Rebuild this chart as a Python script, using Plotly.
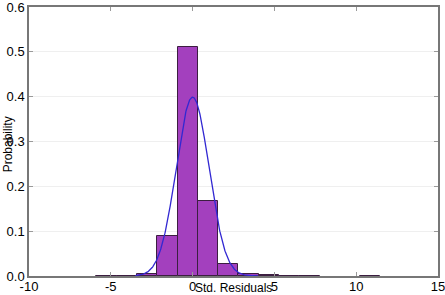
import numpy as np
import plotly.graph_objects as go

# Histogram of standardized residuals (density)
bin_edges = [-7.12, -5.88, -4.64, -3.40, -2.16, -0.92, 0.32, 1.56, 2.80, 4.04,
             5.28, 6.52, 7.76, 9.00, 10.24, 11.48]
densities = [0.0, 0.0005, 0.0005, 0.004, 0.090, 0.510, 0.168, 0.026, 0.0045,
             0.0015, 0.0005, 0.0005, 0.0, 0.0, 0.0005]

# Fitted normal curve parameters
norm_mu = 0.0
norm_sigma = 1.0
curve_range = [-3.5, 4.0]

x_ticks = [-10, -5, 0, 5, 10, 15]
y_ticks = [0.0, 0.1, 0.2, 0.3, 0.4, 0.5, 0.6]

edges = np.array(bin_edges)
dens = np.array(densities)
centers = (edges[:-1] + edges[1:]) / 2
widths = edges[1:] - edges[:-1]
keep = dens > 0  # empty bins draw nothing

xc = np.linspace(curve_range[0], curve_range[1], 300)
yc = np.exp(-0.5 * ((xc - norm_mu) / norm_sigma) ** 2) / (norm_sigma * np.sqrt(2 * np.pi))

FONT = "Liberation Sans, Arial, sans-serif"

fig = go.Figure()
fig.add_trace(go.Bar(
    x=centers[keep], y=dens[keep], width=widths[keep],
    marker=dict(color="rgb(163,64,190)", line=dict(color="rgb(60,30,65)", width=1)),
    showlegend=False,
))
fig.add_trace(go.Scatter(
    x=xc, y=yc, mode="lines",
    line=dict(color="rgb(50,40,210)", width=1.3),
    showlegend=False,
))

axis_common = dict(
    showline=True, linecolor="#777777", linewidth=1.5, mirror="allticks",
    ticks="inside", ticklen=4, tickcolor="#9a9a9a", tickwidth=1,
    zeroline=False, automargin=False, ticklabeloverflow="allow",
    tickfont=dict(family=FONT, size=13, color="black"),
)

fig.update_layout(
    width=445, height=295,
    margin=dict(l=29, r=7, t=7, b=19),
    plot_bgcolor="white", paper_bgcolor="white",
    bargap=0,
    xaxis=dict(
        range=[-10, 15], tickvals=x_ticks, ticktext=[str(v) for v in x_ticks],
        showgrid=False, ticklabelstandoff=-2,
        **axis_common,
    ),
    yaxis=dict(
        range=[0, 0.6], tickvals=y_ticks, ticktext=[f"{v:.1f}" for v in y_ticks],
        showgrid=True, gridcolor="#efefef", gridwidth=1,
        **axis_common,
    ),
    annotations=[
        dict(text="Std. Residuals", xref="paper", yref="paper", x=0.5, y=-0.044,
             xanchor="center", yanchor="middle", showarrow=False,
             font=dict(family=FONT, size=12, color="black")),
        dict(text="Probability", xref="paper", yref="paper", x=-0.051, y=0.49,
             xanchor="center", yanchor="middle", textangle=-90, showarrow=False,
             font=dict(family=FONT, size=12, color="black")),
    ],
)

fig.write_html("out.html", config={"displayModeBar": False},
               post_script="document.body.style.margin='0';")
